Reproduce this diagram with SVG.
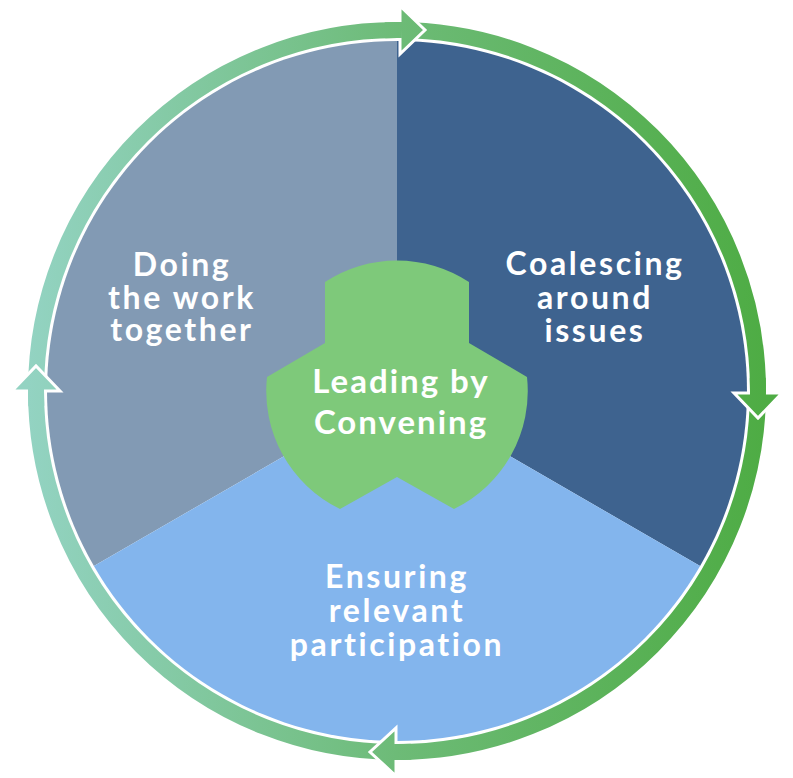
<svg xmlns="http://www.w3.org/2000/svg" width="793" height="778" viewBox="0 0 793 778">
  <defs>
    <linearGradient id="ringGrad" gradientUnits="userSpaceOnUse" x1="28" y1="391" x2="766" y2="391">
      <stop offset="0" stop-color="#93D3C2"/>
      <stop offset="0.5" stop-color="#6DBB77"/>
      <stop offset="1" stop-color="#4EAC44"/>
    </linearGradient>
    <style>
      .lbl { font-family: Lato, "Open Sans", "DejaVu Sans", sans-serif; font-weight: 700; fill: #FFFFFF; text-anchor: middle; }
      .outer { font-size: 32px; letter-spacing: 2.6px; }
      .center { font-size: 33px; letter-spacing: 2px; }
      .head { fill: url(#ringGrad); stroke: #FFFFFF; stroke-width: 3; stroke-linejoin: miter; }
      .band { fill: none; stroke: url(#ringGrad); stroke-width: 16; }
    </style>
  </defs>
  <rect x="0" y="0" width="793" height="778" fill="#FFFFFF"/>

  <g id="sector-doing">
    <path d="M397,391 L397,41 A350,350 0 0 0 93.9,566 Z" fill="#829AB4"/>
    <text class="lbl outer" x="182" y="276">Doing</text>
    <text class="lbl outer" x="182" y="308.5">the work</text>
    <text class="lbl outer" x="182" y="341">together</text>
  </g>
  <g id="sector-coalescing">
    <path d="M397,391 L397,41 A350,350 0 0 1 700.1,566 Z" fill="#3E638F"/>
    <text class="lbl outer" x="595" y="275">Coalescing</text>
    <text class="lbl outer" x="595" y="309">around</text>
    <text class="lbl outer" x="595" y="342">issues</text>
  </g>
  <g id="sector-ensuring">
    <path d="M397,391 L700.1,566 A350,350 0 0 1 93.9,566 Z" fill="#83B5ED"/>
    <text class="lbl outer" x="397" y="588">Ensuring</text>
    <text class="lbl outer" x="397" y="622">relevant</text>
    <text class="lbl outer" x="397" y="656">participation</text>
  </g>

  <g id="center-leading">
    <path d="M325,282 A131,131 0 0 1 469,282 L469,343 L527,377 A131,131 0 0 1 454,509 L397,477 L340,509 A131,131 0 0 1 267,377 L325,343 Z" fill="#7EC97A"/>
    <text class="lbl center" x="401" y="393">Leading by</text>
    <text class="lbl center" x="401" y="434">Convening</text>
  </g>

  <g id="connectors">
    <circle cx="397" cy="391" r="361" class="band"/>
    <polygon class="head" points="400,6 400,54 425,30"/>
    <polygon class="head" points="734,393 782,393 758,418"/>
    <polygon class="head" points="396,728 396,776 370,752"/>
    <polygon class="head" points="12,391 60,391 36,366"/>
    <path class="band" d="M385,30.2 A361,361 0 0 1 402,30.03"/>
    <path class="band" d="M757.77,378 A361,361 0 0 1 757.98,395"/>
    <path class="band" d="M411,751.73 A361,361 0 0 1 394,751.99"/>
    <path class="band" d="M36.31,406 A361,361 0 0 1 36.01,389"/>
  </g>
</svg>
